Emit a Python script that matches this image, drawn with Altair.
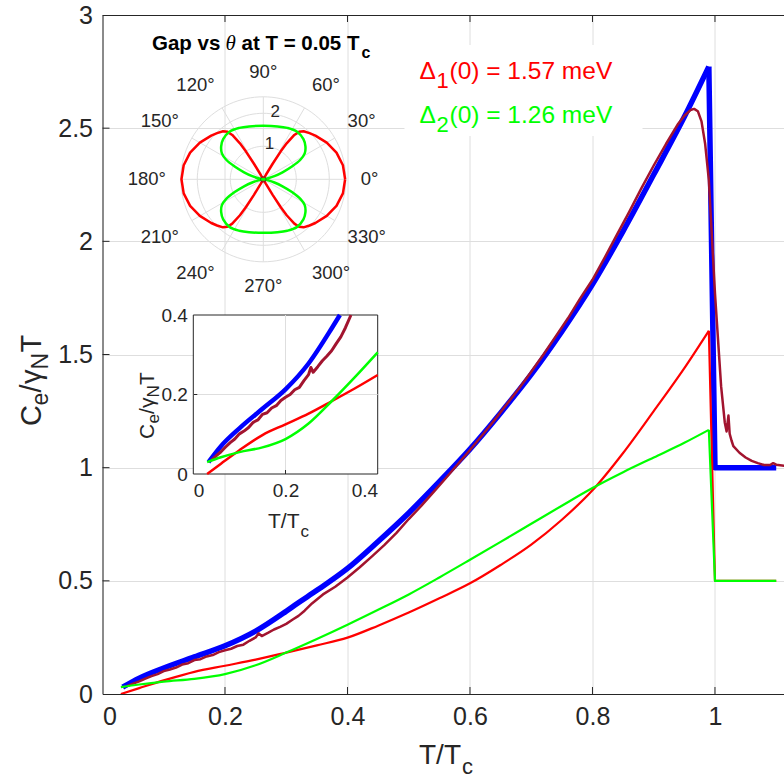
import math
import altair as alt
import pandas as pd

# ---------------- data ----------------
# band 1 (red), band 2 (green), total theory (blue), experiment (maroon)
red_T = [0.03, 0.06, 0.10, 0.15, 0.20, 0.25, 0.30, 0.35, 0.40, 0.45, 0.50, 0.55,
         0.60, 0.65, 0.70, 0.75, 0.80, 0.85, 0.90, 0.95, 0.99, 1.00, 1.10]
red_C = [0.000, 0.026, 0.060, 0.098, 0.125, 0.152, 0.183, 0.215, 0.249, 0.302, 0.360, 0.423,
         0.489, 0.570, 0.660, 0.770, 0.900, 1.065, 1.250, 1.440, 1.605, 0.500, 0.500]
green_T = [0.03, 0.06, 0.10, 0.15, 0.20, 0.25, 0.30, 0.35, 0.40, 0.45, 0.50, 0.55,
           0.60, 0.65, 0.70, 0.75, 0.80, 0.85, 0.90, 0.95, 0.99, 1.00, 1.10]
green_C = [0.030, 0.042, 0.055, 0.067, 0.088, 0.127, 0.183, 0.243, 0.306, 0.372, 0.440, 0.515,
           0.593, 0.672, 0.752, 0.832, 0.910, 0.980, 1.045, 1.110, 1.167, 0.500, 0.500]
blue_T = [0.033, 0.06, 0.10, 0.15, 0.20, 0.25, 0.30, 0.318, 0.35, 0.40, 0.45, 0.50, 0.55,
          0.60, 0.65, 0.70, 0.75, 0.80, 0.85, 0.90, 0.95, 0.99, 1.00, 1.10]
blue_C = [0.030, 0.070, 0.115, 0.164, 0.213, 0.278, 0.366, 0.400, 0.458, 0.555, 0.674, 0.800, 0.938,
          1.082, 1.242, 1.412, 1.602, 1.810, 2.045, 2.295, 2.550, 2.772, 1.000, 1.000]
exp_T = [0.04, 0.05, 0.06, 0.07, 0.08, 0.09, 0.10, 0.11, 0.12, 0.13, 0.14, 0.15, 0.16, 0.17,
         0.18, 0.19, 0.20, 0.21, 0.22, 0.23, 0.24, 0.25, 0.255, 0.26, 0.27, 0.28, 0.29, 0.30,
         0.31, 0.32, 0.33, 0.342, 0.36, 0.38, 0.40, 0.42, 0.44, 0.46, 0.48, 0.50, 0.52, 0.54,
         0.56, 0.58, 0.60, 0.62, 0.64, 0.66, 0.68, 0.70, 0.72, 0.74, 0.76, 0.78, 0.80, 0.82,
         0.84, 0.86, 0.88, 0.90, 0.92, 0.94, 0.95, 0.96, 0.966, 0.972, 0.978, 0.984, 0.99,
         1.00, 1.01, 1.016, 1.019, 1.022, 1.024, 1.027, 1.03, 1.04, 1.05, 1.06, 1.07, 1.08,
         1.09, 1.095, 1.10, 1.113]
exp_C = [0.035, 0.046, 0.056, 0.068, 0.079, 0.088, 0.101, 0.108, 0.117, 0.130, 0.136, 0.150,
         0.154, 0.166, 0.172, 0.185, 0.193, 0.200, 0.212, 0.218, 0.235, 0.250, 0.268, 0.256,
         0.270, 0.285, 0.297, 0.310, 0.328, 0.345, 0.368, 0.400, 0.440, 0.474, 0.515, 0.560,
         0.608, 0.658, 0.712, 0.773, 0.830, 0.891, 0.952, 1.015, 1.078, 1.143, 1.210, 1.280,
         1.350, 1.424, 1.500, 1.580, 1.660, 1.748, 1.830, 1.928, 2.030, 2.130, 2.235, 2.335,
         2.430, 2.520, 2.555, 2.580, 2.585, 2.575, 2.530, 2.430, 2.270, 1.770, 1.360, 1.200,
         1.160, 1.230, 1.150, 1.120, 1.095, 1.066, 1.045, 1.030, 1.020, 1.012, 1.012, 1.020,
         1.013, 1.008]

# polar inset: gap vs angle (first quadrant, the figure is mirror symmetric)
red_theta_q = [0, 10, 20, 30, 40, 45, 50, 53, 55, 57, 58, 59, 60, 62, 90]
red_r_q = [2.48, 2.45, 2.36, 2.22, 2.06, 1.98, 1.90, 1.80, 1.64, 1.30, 1.00, 0.55, 0.15, 0.0, 0.0]
green_theta_q = [0, 8, 12, 16, 20, 24, 28, 32, 38, 45, 55, 65, 75, 90]
green_r_q = [0.0, 0.05, 0.15, 0.35, 0.62, 0.95, 1.28, 1.48, 1.62, 1.72, 1.77, 1.72, 1.66, 1.62]

x_ticks = [0, 0.2, 0.4, 0.6, 0.8, 1.0]
y_ticks = [0, 0.5, 1, 1.5, 2, 2.5, 3]
inset_ticks = [0, 0.2, 0.4]
polar_rings = [1, 2, 2.5]
polar_spokes = [0, 30, 60, 90, 120, 150, 180, 210, 240, 270, 300, 330]
polar_r_labels = [1, 2]
T_PEAK = 0.99

# ---------------- layout / style ----------------
W, H = 681.5, 679.0
X_MAX = 1.1127
FONT = "Liberation Sans"
AXC = "#262626"
GRID = "#dedede"
BLUE, RED, GREEN, MAROON = "#0000ff", "#ff0000", "#00ff00", "#a2142f"
NB = "\u00a0"

IX0, IX1, IY0, IY1 = 90.8, 275.2, 459.0, 300.0      # zoom inset placement (plot px)
PCX, PCY, PR = 160.8, 164.3, 82.5                    # polar inset placement (plot px)
P_MAX = 2.5


def frame(T, C, name):
    return pd.DataFrame({"T": T, "C": C, "s": name, "i": range(len(T))})


red_df = frame(red_T, red_C, "red")
green_df = frame(green_T, green_C, "green")
blue_df = frame(blue_T, blue_C, "blue")
exp_df = frame(exp_T, exp_C, "exp")


def mirror(theta_q, r_q):
    th, rr = [], []
    for t, r in zip(theta_q, r_q):
        th.append(t); rr.append(r)
    for t, r in zip(reversed(theta_q[:-1]), reversed(r_q[:-1])):
        th.append(180 - t); rr.append(r)
    for t, r in zip(theta_q[1:], r_q[1:]):
        th.append(180 + t); rr.append(r)
    for t, r in zip(reversed(theta_q[:-1]), reversed(r_q[:-1])):
        th.append(360 - t); rr.append(r)
    return pd.DataFrame({"theta": th, "r": rr, "i": range(len(th))})


red_p = mirror(red_theta_q, red_r_q)
green_p = mirror(green_theta_q, green_r_q)

xs = alt.Scale(domain=[0, X_MAX], nice=False, zero=False)
ys = alt.Scale(domain=[0, 3], nice=False, zero=False)
ixs = alt.Scale(domain=[0, 0.4], nice=False, zero=False, range=[IX0, IX1])
iys = alt.Scale(domain=[0, 0.4], nice=False, zero=False, range=[IY0, IY1])
pxs = alt.Scale(domain=[-P_MAX, P_MAX], nice=False, zero=False, range=[PCX - PR, PCX + PR])
pys = alt.Scale(domain=[-P_MAX, P_MAX], nice=False, zero=False, range=[PCY + PR, PCY - PR])

one = pd.DataFrame({"a": [0]})


def txt(s, x, y, size, color=AXC, weight="normal", style="normal", align="left",
        baseline="alphabetic", angle=0, font=FONT):
    return alt.Chart(one).mark_text(
        text=s, fontSize=size, color=color, fontWeight=weight, fontStyle=style,
        align=align, baseline=baseline, angle=angle, font=font
    ).encode(x=alt.value(x), y=alt.value(y))


# ---------------- main axes ----------------
main_axes = alt.Chart(blue_df).mark_line(opacity=0).encode(
    x=alt.X("T:Q", scale=xs, axis=alt.Axis(
        values=x_ticks, format=".1~f", title=None, grid=True, gridColor=GRID,
        labelFont=FONT, labelFontSize=25, labelColor=AXC, labelPadding=10,
        domainColor=AXC, ticks=False, orient="bottom")),
    y=alt.Y("C:Q", scale=ys, axis=alt.Axis(
        values=y_ticks, format=".1~f", title=None, grid=True, gridColor=GRID,
        labelFont=FONT, labelFontSize=25, labelColor=AXC, labelPadding=10,
        domainColor=AXC, ticks=False, orient="left")),
)

# inward tick marks (MATLAB style)
xtick_marks = alt.Chart(pd.DataFrame({"v": x_ticks[1:]})).mark_rule(color=AXC, strokeWidth=1).encode(
    x=alt.X("v:Q", scale=xs, axis=None), y=alt.value(H), y2=alt.value(H - 7))
xtick_marks_top = alt.Chart(pd.DataFrame({"v": x_ticks[1:]})).mark_rule(color=AXC, strokeWidth=1).encode(
    x=alt.X("v:Q", scale=xs, axis=None), y=alt.value(0), y2=alt.value(7))
ytick_marks = alt.Chart(pd.DataFrame({"v": y_ticks[1:-1]})).mark_rule(color=AXC, strokeWidth=1).encode(
    y=alt.Y("v:Q", scale=ys, axis=None), x=alt.value(0), x2=alt.value(7))

top_border = alt.Chart(one).mark_rule(color=AXC, strokeWidth=1).encode(
    x=alt.value(0), x2=alt.value(W), y=alt.value(0.5))

legend_box = alt.Chart(one).mark_rect(color="white").encode(
    x=alt.value(302), x2=alt.value(540), y=alt.value(30), y2=alt.value(121))


def main_line(df, color, width, interp="monotone"):
    return alt.Chart(df).mark_line(color=color, strokeWidth=width, clip=True,
                                   strokeJoin="round", interpolate=interp).encode(
        x=alt.X("T:Q", scale=xs, axis=None),
        y=alt.Y("C:Q", scale=ys, axis=None),
        order="i:Q")


def theory_line(df, color, width):
    # smooth below Tc, sharp jump at Tc
    below = main_line(df[df["T"] <= T_PEAK], color, width, "monotone")
    jump = main_line(df[df["T"] >= T_PEAK], color, width, "linear")
    return [below, jump]


# ---------------- zoom inset ----------------
inset_box = alt.Chart(pd.DataFrame({"x0": [0.0], "x1": [0.4], "y0": [0.0], "y1": [0.4]})).mark_rect(
    fill="white", stroke=AXC, strokeWidth=1).encode(
    x=alt.X("x0:Q", scale=ixs, axis=None), x2="x1:Q",
    y=alt.Y("y0:Q", scale=iys, axis=None), y2="y1:Q")

inset_gx = alt.Chart(pd.DataFrame({"g": [0.2], "lo": [0.0], "hi": [0.4]})).mark_rule(
    color=GRID, strokeWidth=1).encode(
    x=alt.X("g:Q", scale=ixs, axis=None),
    y=alt.Y("lo:Q", scale=iys, axis=None), y2="hi:Q")
inset_gy = alt.Chart(pd.DataFrame({"g": [0.2], "lo": [0.0], "hi": [0.4]})).mark_rule(
    color=GRID, strokeWidth=1).encode(
    y=alt.Y("g:Q", scale=iys, axis=None),
    x=alt.X("lo:Q", scale=ixs, axis=None), x2="hi:Q")
inset_tx = alt.Chart(pd.DataFrame({"v": [0.2]})).mark_rule(color=AXC, strokeWidth=1).encode(
    x=alt.X("v:Q", scale=ixs, axis=None), y=alt.value(IY0), y2=alt.value(IY0 - 4))
inset_ty = alt.Chart(pd.DataFrame({"v": [0.2]})).mark_rule(color=AXC, strokeWidth=1).encode(
    y=alt.Y("v:Q", scale=iys, axis=None), x=alt.value(IX0), x2=alt.value(IX0 + 4))


def inset_line(df, color, width, axes=False, interp="monotone"):
    d = df[(df["T"] <= 0.4001) & (df["C"] <= 0.4001)]
    if axes:
        xa = alt.Axis(values=inset_ticks, format=".1~f", title=None, grid=False,
                      labelFont=FONT, labelFontSize=19, labelColor=AXC, labelPadding=7,
                      domain=False, ticks=False, orient="bottom", offset=-(H - IY0), zindex=2)
        ya = alt.Axis(values=inset_ticks, format=".1~f", title=None, grid=False,
                      labelFont=FONT, labelFontSize=19, labelColor=AXC, labelPadding=6,
                      domain=False, ticks=False, orient="left", offset=-IX0, zindex=2)
    else:
        xa = None
        ya = None
    return alt.Chart(d).mark_line(color=color, strokeWidth=width, strokeJoin="round",
                                  interpolate=interp).encode(
        x=alt.X("T:Q", scale=ixs, axis=xa),
        y=alt.Y("C:Q", scale=iys, axis=ya),
        order="i:Q")


# ---------------- polar inset ----------------
def polar_xy(ch):
    return ch.transform_calculate(
        px="datum.r * cos(datum.theta * PI / 180)",
        py="datum.r * sin(datum.theta * PI / 180)")


rings = []
for rv in polar_rings:
    rings.append(
        alt.Chart(alt.sequence(0, 361, 3, as_="theta")).transform_calculate(
            r=str(rv)).transform_calculate(
            px="datum.r * cos(datum.theta * PI / 180)",
            py="datum.r * sin(datum.theta * PI / 180)").mark_line(
            color=GRID, strokeWidth=1).encode(
            x=alt.X("px:Q", scale=pxs, axis=None),
            y=alt.Y("py:Q", scale=pys, axis=None),
            order="theta:Q"))

spokes = alt.Chart(pd.DataFrame({"theta": polar_spokes})).transform_calculate(
    ex=f"{P_MAX} * cos(datum.theta * PI / 180)",
    ey=f"{P_MAX} * sin(datum.theta * PI / 180)",
    zx="0", zy="0").mark_rule(color=GRID, strokeWidth=1).encode(
    x=alt.X("zx:Q", scale=pxs, axis=None), x2="ex:Q",
    y=alt.Y("zy:Q", scale=pys, axis=None), y2="ey:Q")


def polar_curve(df, color, interp):
    return polar_xy(alt.Chart(df)).mark_line(color=color, strokeWidth=2.5,
                                             strokeJoin="round", interpolate=interp).encode(
        x=alt.X("px:Q", scale=pxs, axis=None),
        y=alt.Y("py:Q", scale=pys, axis=None),
        order="i:Q")


center_dot = alt.Chart(pd.DataFrame({"px": [0.0], "py": [0.0]})).mark_point(
    shape="circle", size=30, filled=False, color="#333333", strokeWidth=1).encode(
    x=alt.X("px:Q", scale=pxs, axis=None), y=alt.Y("py:Q", scale=pys, axis=None))

angle_labels = []
LR = 2.95
for a in polar_spokes:
    c, s = math.cos(math.radians(a)), math.sin(math.radians(a))
    al = "left" if c > 0.1 else ("right" if c < -0.1 else "center")
    bl = "bottom" if s > 0.1 else ("top" if s < -0.1 else "middle")
    d = pd.DataFrame({"theta": [a], "r": [LR], "lab": [f"{a}\u00b0"]})
    angle_labels.append(
        polar_xy(alt.Chart(d)).mark_text(font=FONT, fontSize=18.5, color=AXC,
                                         align=al, baseline=bl).encode(
            x=alt.X("px:Q", scale=pxs, axis=None),
            y=alt.Y("py:Q", scale=pys, axis=None),
            text="lab:N"))

r_labels = polar_xy(alt.Chart(pd.DataFrame({
    "theta": [80, 80], "r": [v + 0.08 for v in polar_r_labels],
    "lab": [str(v) for v in polar_r_labels]}))).mark_text(
    font=FONT, fontSize=17, color=AXC, align="center", baseline="middle").encode(
    x=alt.X("px:Q", scale=pxs, axis=None),
    y=alt.Y("py:Q", scale=pys, axis=None),
    text="lab:N")

# ---------------- texts ----------------
texts = [
    # legend
    txt("\u0394", 317, 64, 24.5, RED),
    txt("1", 334, 73, 22, RED),
    txt("(0) = 1.57 meV", 347, 64, 24.5, RED),
    txt("\u0394", 317, 108, 24.5, GREEN),
    txt("2", 334, 117, 22, GREEN),
    txt("(0) = 1.26 meV", 347, 108, 24.5, GREEN),
    # polar title
    txt("Gap vs", 49.5, 35, 20.5, "black", weight="bold"),
    txt("\u03b8", 123, 35, 21, "black", style="italic", font="Liberation Serif"),
    txt("at T = 0.05 T", 139, 35, 20.5, "black", weight="bold"),
    txt("c", 259, 43, 16, "black", weight="bold"),
    # main x label
    txt("T/T", 316.5, 749, 28),
    txt("c", 359.5, 759, 22),
    # main y label (rotated)
    txt("C", -61.5, 411, 29, angle=270),
    txt("e", -54.5, 390.5, 23, angle=270),
    txt("/", -61.5, 377.5, 29, angle=270),
    txt("\u03b3", -61.5, 369, 29, angle=270),
    txt("N", -54.5, 354.5, 23, angle=270),
    txt(NB + "T", -61.5, 337.5, 29, angle=270),
    # inset x label
    txt("T/T", 165.5, 513, 21),
    txt("c", 198, 522, 17),
    # inset y label (rotated)
    txt("C", 51, 424, 21, angle=270),
    txt("e", 56.5, 408.5, 17, angle=270),
    txt("/", 51, 399, 21, angle=270),
    txt("\u03b3", 51, 393, 21, angle=270),
    txt("N", 56.5, 382.5, 17, angle=270),
    txt(NB + "T", 51, 370, 21, angle=270),
]

layers = [main_axes, xtick_marks, xtick_marks_top, ytick_marks, legend_box,
          *theory_line(blue_df, BLUE, 5.5), main_line(exp_df, MAROON, 2.5, "linear"),
          *theory_line(red_df, RED, 2.2), *theory_line(green_df, GREEN, 2.2),
          top_border,
          inset_box, inset_gx, inset_gy, inset_tx, inset_ty,
          inset_line(blue_df, BLUE, 4.5, axes=True), inset_line(exp_df, MAROON, 3, interp="linear"),
          inset_line(red_df, RED, 2.5), inset_line(green_df, GREEN, 2.5),
          *rings, spokes,
          polar_curve(red_p, RED, "linear"), polar_curve(green_p, GREEN, "catmull-rom"), center_dot,
          *angle_labels, r_labels,
          *texts]

chart = alt.layer(*layers).resolve_scale(
    x="independent", y="independent"
).properties(
    width=W, height=H,
    autosize=alt.AutoSizeParams(type="none"),
    padding={"left": 102.5, "top": 15, "right": 0, "bottom": 86},
    background="white",
).configure_view(stroke=None)

chart.save("out.html", embed_options={"renderer": "svg", "actions": False})
